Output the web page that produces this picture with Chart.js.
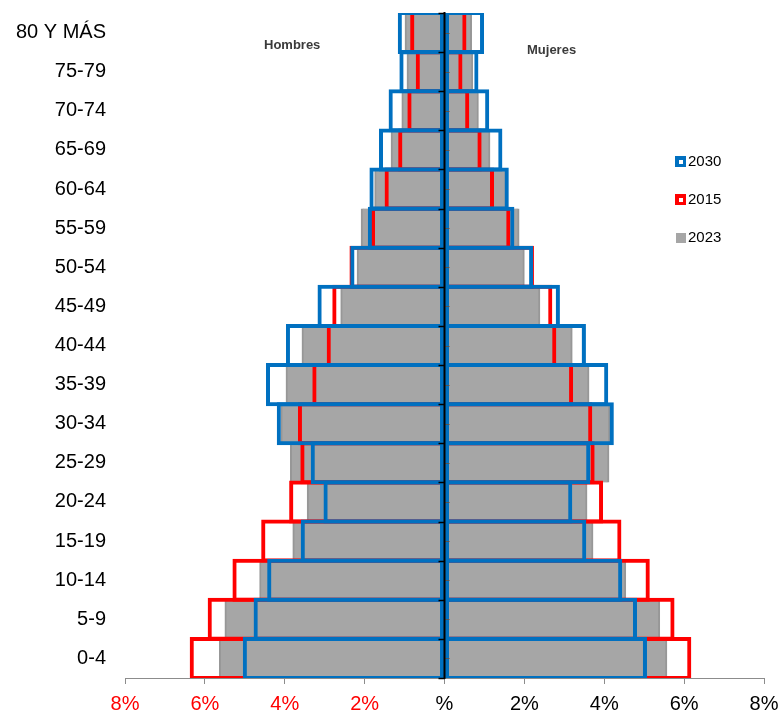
<!DOCTYPE html>
<html>
<head>
<meta charset="utf-8">
<script src="https://cdn.jsdelivr.net/npm/chart.js@4.4.1/dist/chart.umd.min.js"></script>
<style>
  html, body { margin: 0; padding: 0; background: #fff; }
  #wrap { width: 778px; height: 711px; position: relative; }
</style>
</head>
<body>
<div id="wrap"><canvas id="c" width="778" height="711"></canvas></div>
<script>
// Age groups, top to bottom
const ageGroups = ['80 Y MÁS','75-79','70-74','65-69','60-64','55-59','50-54','45-49','40-44','35-39','30-34','25-29','20-24','15-19','10-14','5-9','0-4'];

// Percent of population (men drawn to the left)
const hombres2030 = [1.17, 1.13, 1.40, 1.64, 1.88, 1.92, 2.36, 3.18, 3.97, 4.47, 4.20, 3.35, 3.03, 3.60, 4.44, 4.78, 5.05];
const mujeres2030 = [0.99, 0.85, 1.12, 1.45, 1.61, 1.75, 2.22, 2.89, 3.54, 4.10, 4.24, 3.65, 3.20, 3.55, 4.45, 4.82, 5.07];
const hombres2015 = [0.86, 0.72, 0.93, 1.16, 1.50, 1.84, 2.38, 2.81, 2.95, 3.31, 3.67, 3.61, 3.89, 4.59, 5.31, 5.93, 6.38];
const mujeres2015 = [0.55, 0.45, 0.62, 0.93, 1.24, 1.65, 2.24, 2.70, 2.80, 3.22, 3.70, 3.76, 3.97, 4.43, 5.14, 5.76, 6.18];
const hombres2023 = [0.99, 0.94, 1.07, 1.34, 1.75, 2.09, 2.19, 2.60, 3.57, 3.97, 4.10, 3.86, 3.44, 3.80, 4.63, 5.50, 5.64];
const mujeres2023 = [0.68, 0.71, 0.85, 1.14, 1.55, 1.87, 2.00, 2.39, 3.20, 3.62, 4.14, 4.12, 3.57, 3.72, 4.54, 5.39, 5.57];

const xTickValues = [-8, -6, -4, -2, 0, 2, 4, 6, 8];
const legendItems = ['2030', '2015', '2023'];
const sideLabels = ['Hombres', 'Mujeres'];

const FONT = "'Liberation Sans', Arial, sans-serif";
const BLUE = '#0070C0', RED = '#FF0000', GRAY = '#A6A6A6';

const neg = a => a.map(v => -v);

const outline = (label, data, color) => ({
  label, data, grouped: false,
  backgroundColor: 'rgba(0,0,0,0)',
  borderColor: color, borderWidth: 4, borderSkipped: false,
  barPercentage: 1.1, categoryPercentage: 1.0
});
const filled = (label, data, side) => ({
  label, data, grouped: false,
  backgroundColor: GRAY,
  borderColor: '#979797',
  borderWidth: side === 'left' ? {left: 2, right: 0, top: 0, bottom: 0} : {left: 0, right: 2, top: 0, bottom: 0},
  borderSkipped: false,
  barPercentage: 1.0, categoryPercentage: 1.0
});

const overlay = {
  id: 'overlay',
  afterDatasetsDraw(chart) {
    const ctx = chart.ctx, xs = chart.scales.x, ys = chart.scales.y, ca = chart.chartArea;
    const x0 = xs.getPixelForValue(0);
    const step = ys.getPixelForValue(1) - ys.getPixelForValue(0);
    ctx.save();
    for (let i = 0; i <= ageGroups.length; i++) {
      const yb = Math.round(ys.getPixelForValue(i) - step / 2) + 0.5;
      ctx.strokeStyle = '#000'; ctx.lineWidth = 1.5;
      ctx.beginPath(); ctx.moveTo(x0 - 6, yb); ctx.lineTo(x0, yb); ctx.stroke();
    }
    for (let i = 0; i < ageGroups.length; i++) {
      const ym = Math.round(ys.getPixelForValue(i)) + 0.5;
      ctx.strokeStyle = '#555'; ctx.lineWidth = 1;
      ctx.beginPath(); ctx.moveTo(x0, ym); ctx.lineTo(x0 + 5, ym); ctx.stroke();
    }
    ctx.strokeStyle = '#000'; ctx.lineWidth = 2;
    ctx.beginPath(); ctx.moveTo(x0, ca.top - 1); ctx.lineTo(x0, ca.bottom + 1); ctx.stroke();
    ctx.restore();
  },
  afterDraw(chart) {
    const ctx = chart.ctx;
    ctx.save();
    ctx.font = 'bold 13px ' + FONT;
    ctx.fillStyle = '#3a3a3a';
    ctx.textBaseline = 'middle';
    ctx.textAlign = 'left';
    ctx.fillText(sideLabels[0], 264, 45);
    ctx.fillText(sideLabels[1], 527, 50);
    const ly = [161, 199, 237];
    ctx.font = '15px ' + FONT;
    ctx.fillStyle = BLUE; ctx.fillRect(675, ly[0] - 5, 11, 11);
    ctx.fillStyle = '#fff'; ctx.fillRect(679, ly[0] - 1, 4, 4);
    ctx.fillStyle = RED; ctx.fillRect(675, ly[1] - 5, 11, 11);
    ctx.fillStyle = '#fff'; ctx.fillRect(679, ly[1] - 1, 4, 4);
    ctx.fillStyle = GRAY; ctx.fillRect(676, ly[2] - 4, 10, 10);
    ctx.fillStyle = '#000';
    legendItems.forEach((t, i) => ctx.fillText(t, 688, ly[i] + 1));
    ctx.restore();
  }
};

new Chart(document.getElementById('c'), {
  type: 'bar',
  data: {
    labels: ageGroups,
    datasets: [
      outline('2030', neg(hombres2030), BLUE),
      outline('2030 M', mujeres2030, BLUE),
      outline('2015', neg(hombres2015), RED),
      outline('2015 M', mujeres2015, RED),
      filled('2023', neg(hombres2023), 'left'),
      filled('2023 M', mujeres2023, 'right')
    ]
  },
  options: {
    indexAxis: 'y',
    responsive: false,
    animation: false,
    layout: { padding: { left: 0, right: 14, top: 13, bottom: 0 } },
    plugins: { legend: { display: false }, tooltip: { enabled: false } },
    scales: {
      x: {
        type: 'linear',
        min: -8, max: 8,
        afterBuildTicks: s => { s.ticks = xTickValues.map(v => ({ value: v })); },
        afterFit: s => { s.height = 33; s.paddingLeft = 0; s.paddingRight = 0; },
        grid: { drawOnChartArea: false, drawTicks: true, tickLength: 6, tickColor: '#8c8c8c' },
        border: { display: true, color: '#8c8c8c', width: 1 },
        ticks: {
          padding: 8,
          maxRotation: 0,
          font: { family: FONT, size: 20 },
          color: c => (c.tick && c.tick.value < 0) ? RED : '#000',
          callback: v => v === 0 ? '%' : Math.abs(v) + '%'
        }
      },
      y: {
        type: 'category',
        position: 'left',
        afterFit: s => { s.width = 125; s.paddingTop = 0; s.paddingBottom = 0; },
        grid: { display: false },
        border: { display: false },
        ticks: {
          padding: 11,
          autoSkip: false,
          font: { family: FONT, size: 20 },
          color: '#000'
        }
      }
    }
  },
  plugins: [overlay]
});
</script>
</body>
</html>
